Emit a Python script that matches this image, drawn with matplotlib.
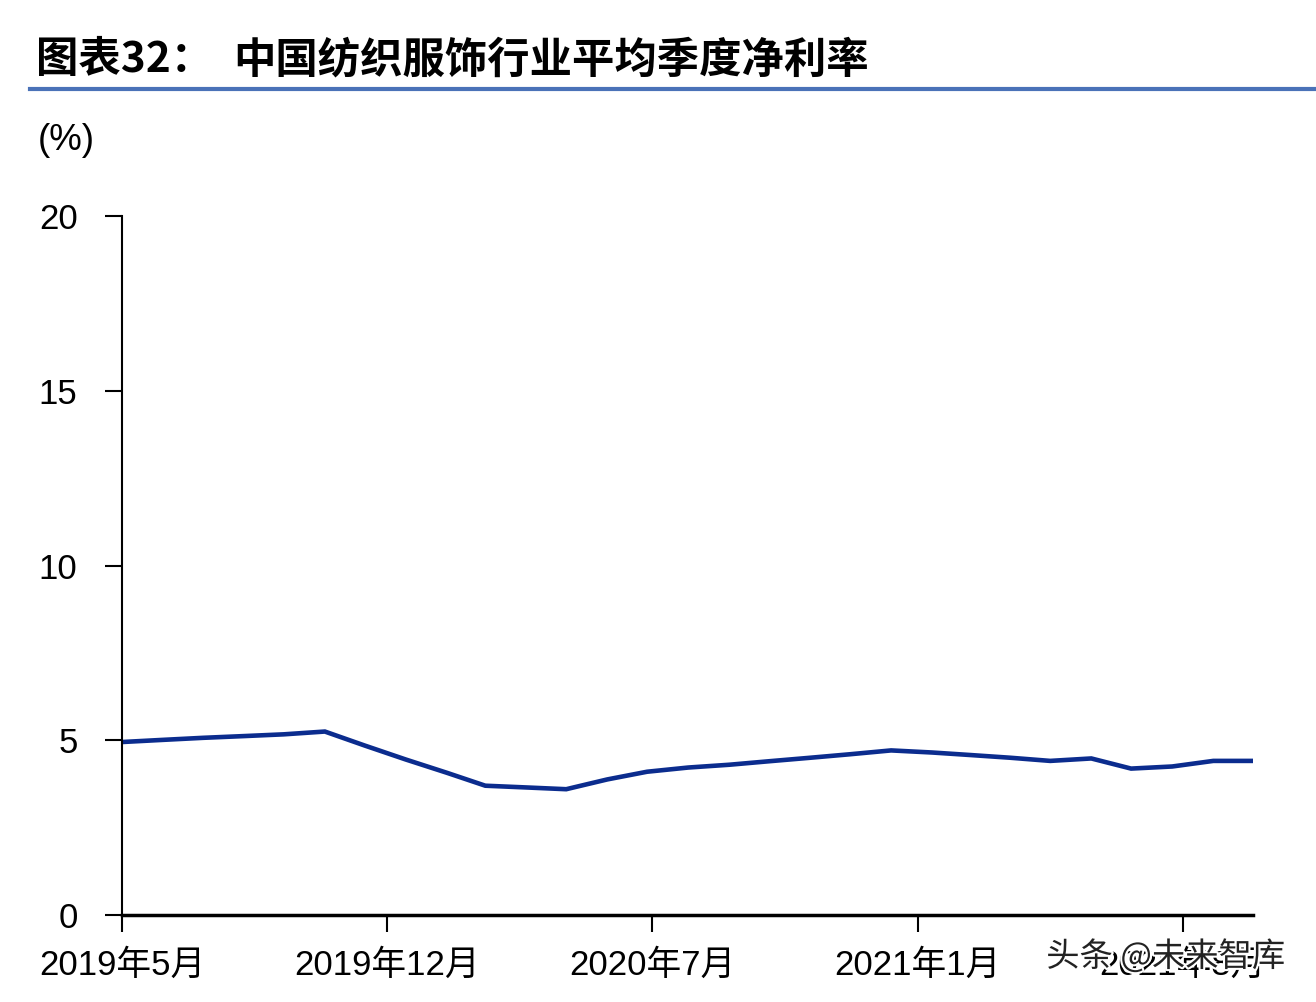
import matplotlib.pyplot as plt
import matplotlib.dates as mdates
import matplotlib.patheffects as pe
import numpy as np
import pandas as pd

plt.rcParams['font.family'] = ['Liberation Sans', 'Noto Sans CJK SC', 'DejaVu Sans']

# monthly average quarterly net margin (%), May 2019 - Sep 2021
months = pd.date_range('2019-05-31', periods=29, freq='ME')
margin = [4.95, 5.01, 5.07, 5.12, 5.17, 5.25, 4.85, 4.45, 4.07, 3.70,
          3.65, 3.60, 3.88, 4.10, 4.22, 4.30, 4.40, 4.50, 4.60, 4.71,
          4.65, 4.58, 4.50, 4.41, 4.48, 4.19, 4.25, 4.41, 4.41]
tick_labels = ['2019年5月', '2019年12月', '2020年7月', '2021年1月', '2021年8月']
y_ticks = [0, 5, 10, 15, 20]

fig = plt.figure(figsize=(13.16, 10.02), dpi=100)
ax = fig.add_axes([0.0927, 0.0868, 0.8595, 0.6976])

ax.plot(months, margin, color='#0B2C8E', lw=3.3, solid_joinstyle='miter')

ticks = [months[0] + pd.Timedelta(days=200 * k) for k in range(len(tick_labels))]
ax.set_xticks(ticks)
ax.set_xticklabels(tick_labels, fontsize=25)
ax.set_xlim(months[0], months[-1])
ax.set_ylim(0, 20)
ax.set_yticks(y_ticks)
ax.tick_params(axis='y', labelsize=25, length=12, width=1.5, pad=20, direction='out')
ax.tick_params(axis='x', length=12, width=1.5, pad=12, direction='out')
for s in ['top', 'right']:
    ax.spines[s].set_visible(False)
ax.spines['left'].set_linewidth(1.5)
ax.spines['bottom'].set_linewidth(2.5)

# title and rule
fig.text(0.027, 0.94, '图表32：', fontsize=30.5, fontweight='black',
         family=['Noto Sans CJK SC'], va='center')
fig.text(0.177, 0.94, '中国纺织服饰行业平均季度净利率', fontsize=30.5, fontweight='black',
         family=['Noto Sans CJK SC'], va='center')
fig.add_artist(plt.Line2D([0.023, 1.0], [0.911, 0.911], color='#4A72B8', lw=3))

fig.text(0.029, 0.86, '(%)', fontsize=26.5, va='center')

# watermark
fig.text(0.795, 0.045, '头条 @未来智库', fontsize=24, family=['Noto Sans CJK SC'],
         color='#222222', va='center',
         path_effects=[pe.withStroke(linewidth=3, foreground='white')])

fig.savefig('out.png', dpi=100)
